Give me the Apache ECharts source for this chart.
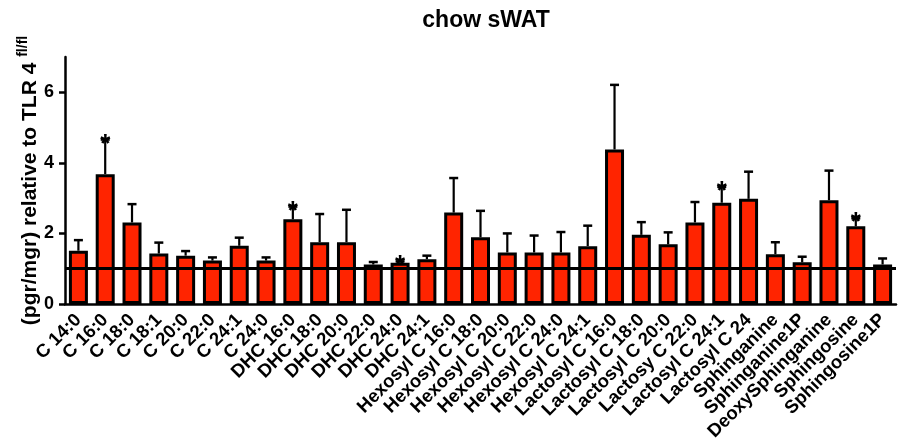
<!DOCTYPE html>
<html>
<head>
<meta charset="utf-8">
<script src="https://cdn.jsdelivr.net/npm/echarts@6/dist/echarts.min.js"></script>
<style>html,body{margin:0;padding:0;background:#fff}#c{width:898px;height:448px}</style>
</head>
<body>
<div id="c"></div>
<script>
const categories = ['C 14:0','C 16:0','C 18:0','C 18:1','C 20:0','C 22:0','C 24:1','C 24:0',
  'DHC 16:0','DHC 18:0','DHC 20:0','DHC 22:0','DHC 24:0','DHC 24:1',
  'Hexosyl C 16:0','Hexosyl C 18:0','Hexosyl C 20:0','Hexosyl C 22:0','Hexosyl C 24:0','Hexosyl C 24:1',
  'Lactosyl C 16:0','Lactosyl C 18:0','Lactosyl C 20:0','Lactosy C 22:0','Lactosyl C 24:1','Lactosyl C 24',
  'Sphinganine','Sphinganine1P','DeoxySphinganine','Sphingosine','Sphingosine1P'];
const values = [1.51,3.68,2.31,1.43,1.37,1.23,1.65,1.23,2.40,1.75,1.75,1.12,1.17,1.27,2.59,1.89,1.46,1.46,1.46,1.64,4.38,1.96,1.69,2.31,2.87,2.98,1.41,1.18,2.94,2.20,1.12];
const errors = [0.30,0.98,0.52,0.31,0.13,0.09,0.23,0.09,0.36,0.80,0.92,0.07,0.04,0.10,0.98,0.75,0.54,0.48,0.58,0.58,1.83,0.36,0.34,0.58,0.45,0.77,0.34,0.16,0.84,0.23,0.17];
const significant = [0,1,0,0,0,0,0,0,1,0,0,0,1,0,0,0,0,0,0,0,0,0,0,0,1,0,0,0,0,1,0];
const yTicks = [0,2,4,6];
const refValue = 1;

const FONT = 'Liberation Sans';
const chart = echarts.init(document.getElementById('c'), null, {renderer:'canvas'});
const errData = values.map((v,i)=>[i, v, errors[i], significant[i]]);

chart.setOption({
  animation:false,
  title:{text:'chow sWAT', left:481, top:4, textAlign:'center',
    textStyle:{fontFamily:FONT, fontWeight:'bold', fontSize:23, color:'#000'}},
  grid:{left:65, right:2, top:57, bottom:144, containLabel:false},
  xAxis:{type:'category', data:categories,
    axisLine:{lineStyle:{color:'#000', width:2.5}},
    axisTick:{alignWithLabel:true, length:6, lineStyle:{color:'#000', width:2.5}},
    axisLabel:{interval:0, rotate:45, margin:13, color:'#000', fontFamily:FONT, fontWeight:'bold', fontSize:18.5}},
  yAxis:{type:'value', min:0, max:7, interval:2,
    name:'{a|(pgr/mgr) relative to TLR 4 }{b|fl/fl}', nameLocation:'middle', nameRotate:90, nameGap:24,
    nameMoveOverlap:false,
    nameTextStyle:{rich:{
      a:{fontFamily:FONT, fontWeight:'bold', fontSize:21, color:'#000', lineHeight:25, verticalAlign:'bottom'},
      b:{fontFamily:FONT, fontWeight:'bold', fontSize:14, color:'#000', lineHeight:25, verticalAlign:'top'}}},
    splitLine:{show:false},
    axisLine:{show:true, lineStyle:{color:'#000', width:2.5}},
    axisTick:{show:true, length:6, customValues:yTicks, lineStyle:{color:'#000', width:2.5}},
    axisLabel:{customValues:yTicks, margin:11, color:'#000', fontFamily:FONT, fontWeight:'bold', fontSize:18}},
  series:[
    {type:'bar', data:values, barWidth:19,
      itemStyle:{color:'#ff2400', borderColor:'#000', borderWidth:3},
      markLine:{silent:true, symbol:'none', label:{show:false},
        lineStyle:{color:'#000', width:3, type:'solid'}, data:[{yAxis:refValue}]}},
    {type:'custom', data:errData, z:5, clip:false,
      renderItem:function(params, api){
        const i=api.value(0), v=api.value(1), e=api.value(2), s=api.value(3);
        const b=api.coord([i,v]), t=api.coord([i,v+e]);
        const ch=[
          {type:'line', shape:{x1:b[0],y1:b[1],x2:t[0],y2:t[1]}, style:{stroke:'#000', lineWidth:2.2}},
          {type:'line', shape:{x1:t[0]-4.5,y1:t[1],x2:t[0]+4.5,y2:t[1]}, style:{stroke:'#000', lineWidth:2.5}}
        ];
        if(s){
          ch.push({type:'text', style:{text:'*', x:t[0], y:t[1]+5, align:'center', verticalAlign:'middle',
            font:'bold 26px '+FONT, fill:'#000'}});
        }
        return {type:'group', children:ch};
      }}
  ]
});
</script>
</body>
</html>
